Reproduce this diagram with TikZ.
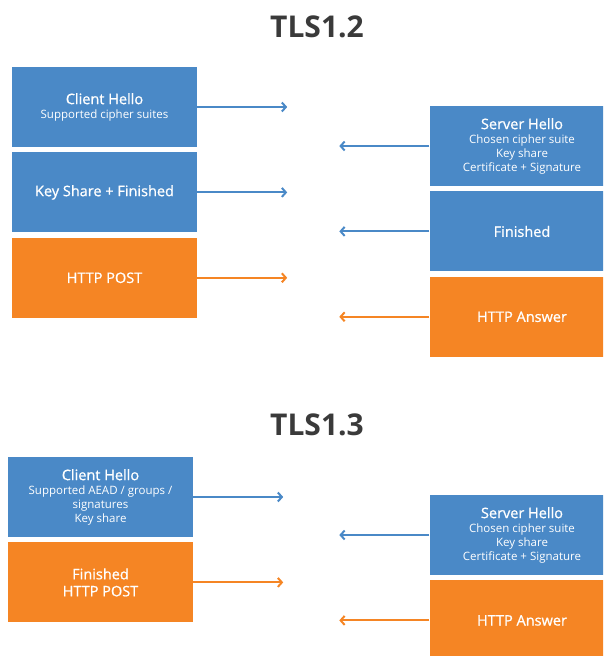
\documentclass[tikz,border=0pt]{standalone}
\usepackage{fontspec}
\setmainfont{Open Sans}
\newfontfamily\msgsemi{Open Sans}[FakeBold=0.9]
\usetikzlibrary{positioning,arrows.meta}
\definecolor{msgblue}{HTML}{4A89C7}
\definecolor{msgorange}{HTML}{F58524}
\definecolor{titlegray}{HTML}{3A3A3A}
\newcommand{\msghead}[1]{{\msgsemi\fontsize{14.5}{15.5}\selectfont #1}}
\tikzset{
  msg/.style={minimum width=185pt,minimum height=80pt,inner sep=0pt,align=center,
    text=white,font=\fontsize{11.5}{14}\selectfont},
  bluemsg/.style={msg,fill=msgblue},
  orangemsg/.style={msg,fill=msgorange},
  version/.style={font=\bfseries\fontsize{30}{32}\selectfont,text=titlegray},
  flow/.style={line width=2pt,-{Straight Barb[length=4pt,width=9pt,line width=2pt]}}
}
\begin{document}
\begin{tikzpicture}[x=1pt,y=-1pt,node distance=5pt]
  \useasboundingbox (0,0) rectangle (603,656);
  \clip (0,0) rectangle (603,656);
  % TLS 1.2
  \node[version] (t12) at (317,27) {TLS1.2};
  \node[bluemsg] (ch) at (104.5,107) {\msghead{Client Hello}\\Supported cipher suites};
  \node[bluemsg,below=of ch] (ksf) {\msghead{Key Share + Finished}};
  \node[orangemsg,below=of ksf] (post) {\msghead{HTTP POST}};
  \node[bluemsg] (sh) at (522,146) {\msghead{Server Hello}\\Chosen cipher suite\\Key share\\Certificate + Signature};
  \node[bluemsg,below=of sh] (fin) {\msghead{Finished}};
  \node[orangemsg,below=of fin] (ans) {\msghead{HTTP Answer}};
  \coordinate[right=90pt of ch.east] (chto);
  \coordinate[right=90pt of ksf.east] (ksfto);
  \coordinate[right=90pt of post.east] (postto);
  \coordinate[left=90pt of sh.west] (shto);
  \coordinate[left=90pt of fin.west] (finto);
  \coordinate[left=90pt of ans.west] (ansto);
  \draw[flow,msgblue] (ch.east) -- (chto);
  \draw[flow,msgblue] (ksf.east) -- (ksfto);
  \draw[flow,msgorange] (post.east) -- (postto);
  \draw[flow,msgblue] (sh.west) -- (shto);
  \draw[flow,msgblue] (fin.west) -- (finto);
  \draw[flow,msgorange] (ans.west) -- (ansto);
  % TLS 1.3
  \node[version] (t13) at (317,425) {TLS1.3};
  \node[bluemsg] (ch2) at (100.5,497) {\msghead{Client Hello}\\Supported AEAD / groups /\\signatures\\Key share};
  \node[orangemsg,below=of ch2] (finpost) {\msghead{Finished}\\[3pt]\msghead{HTTP POST}};
  \node[bluemsg] (sh2) at (522,535) {\msghead{Server Hello}\\Chosen cipher suite\\Key share\\Certificate + Signature};
  \node[orangemsg,below=of sh2] (ans2) {\msghead{HTTP Answer}};
  \coordinate[right=90pt of ch2.east] (ch2to);
  \coordinate[right=90pt of finpost.east] (finpostto);
  \coordinate[left=90pt of sh2.west] (sh2to);
  \coordinate[left=90pt of ans2.west] (ans2to);
  \draw[flow,msgblue] (ch2.east) -- (ch2to);
  \draw[flow,msgorange] (finpost.east) -- (finpostto);
  \draw[flow,msgblue] (sh2.west) -- (sh2to);
  \draw[flow,msgorange] (ans2.west) -- (ans2to);
\end{tikzpicture}
\end{document}
